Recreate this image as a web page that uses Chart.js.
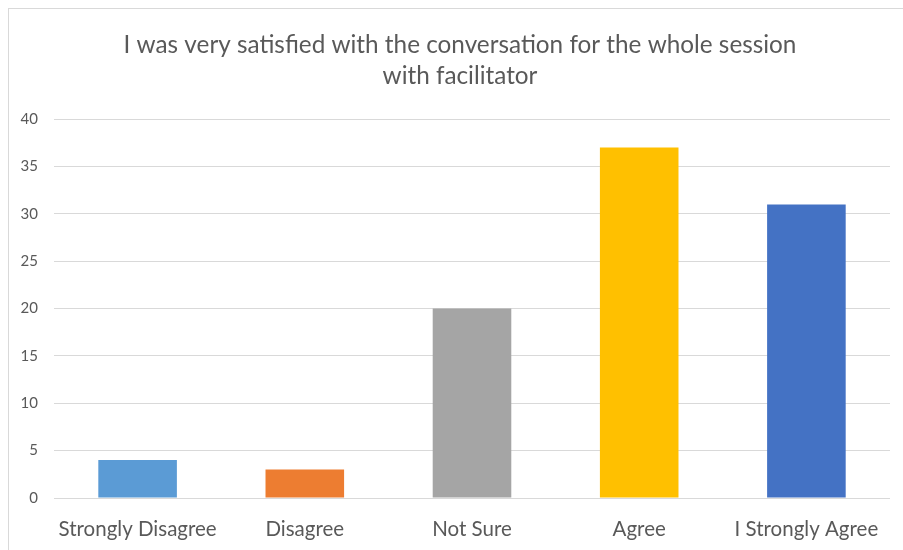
<!DOCTYPE html>
<html><head><meta charset="utf-8">
<script src="https://cdn.jsdelivr.net/npm/chart.js@4/dist/chart.umd.min.js"></script>
<style>
html,body{margin:0;padding:0;background:#fff;overflow:hidden;}
#frame{position:absolute;left:8px;top:8px;width:1000px;height:1000px;border:1px solid #d9d9d9;}
#wrap{position:absolute;left:0;top:0;width:903px;height:550px;overflow:hidden;}
</style></head>
<body>
<div id="frame"></div>
<div id="wrap"><canvas id="c" width="920" height="550"></canvas></div>
<script>
const categories = ["Strongly Disagree","Disagree","Not Sure","Agree","I Strongly Agree"];
const values = [4,3,20,37,31];
const barColors = ["#5B9BD5","#ED7D31","#A5A5A5","#FFC000","#4472C4"];
const titleLines = ["I was very satisfied with the conversation for the whole session","with facilitator"];
const FONT = "Lato, 'Open Sans', sans-serif";

new Chart(document.getElementById('c'), {
  type: 'bar',
  data: { labels: categories, datasets: [{ data: values, backgroundColor: barColors, borderWidth: 0, categoryPercentage: 1, barPercentage: 0.47, yAxisID: 'y' }] },
  options: {
    responsive: false, animation: false,
    layout: { padding: { left: 0, right: 0, top: 29, bottom: 0 } },
    plugins: {
      legend: { display: false }, tooltip: { enabled: false },
      title: { display: true, text: titleLines, color: '#595959', font: { family: FONT, size: 24.3, weight: 'normal', lineHeight: 1.3 }, padding: { top: 0, bottom: 27 } }
    },
    scales: {
      x: {
        grid: { display: false, drawTicks: false },
        border: { display: false },
        ticks: { color: '#595959', font: { family: FONT, size: 20.5 }, padding: 19, maxRotation: 0 },
        afterFit: (s) => { s.height = 52; }
      },
      y: {
        min: 0, max: 40,
        ticks: { stepSize: 5, color: '#595959', font: { family: FONT, size: 15 }, padding: 16 },
        grid: { color: '#d9d9d9', lineWidth: 1, drawTicks: false },
        border: { display: false },
        afterFit: (s) => { s.width = 54; }
      },
      spacer: {
        position: 'right', min: 0, max: 40,
        ticks: { display: false }, grid: { display: false, drawTicks: false }, border: { display: false },
        afterFit: (s) => { s.width = 30; }
      }
    }
  }
});
</script>
</body></html>
